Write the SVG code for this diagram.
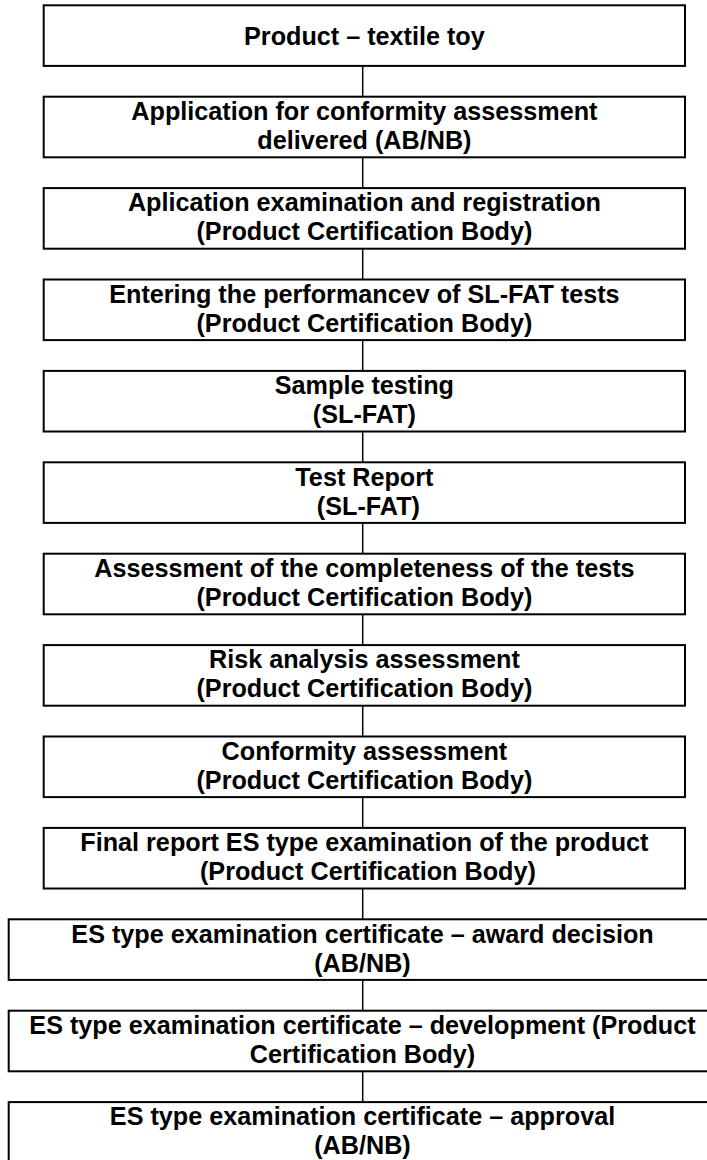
<svg xmlns="http://www.w3.org/2000/svg" width="707" height="1160" viewBox="0 0 707 1160">
<style>
.box{fill:#fff;stroke:#000;stroke-width:2}
.lbl{font-family:"Liberation Sans",Arial,sans-serif;font-weight:bold;font-size:25.2px;fill:#000;text-anchor:middle}
.con{stroke:#000;stroke-width:1.5;fill:none}
</style>
<rect width="707" height="1160" fill="#fff"/>
<g id="connectors">
<line class="con" x1="362.7" y1="65.9" x2="362.7" y2="96.7"/>
<line class="con" x1="362.7" y1="157.3" x2="362.7" y2="188.1"/>
<line class="con" x1="362.7" y1="248.7" x2="362.7" y2="279.5"/>
<line class="con" x1="362.7" y1="340.1" x2="362.7" y2="370.9"/>
<line class="con" x1="362.7" y1="431.5" x2="362.7" y2="462.3"/>
<line class="con" x1="362.7" y1="522.9" x2="362.7" y2="553.7"/>
<line class="con" x1="362.7" y1="614.3" x2="362.7" y2="645.1"/>
<line class="con" x1="362.7" y1="705.7" x2="362.7" y2="736.5"/>
<line class="con" x1="362.7" y1="797.1" x2="362.7" y2="827.9"/>
<line class="con" x1="362.7" y1="888.5" x2="362.7" y2="919.3"/>
<line class="con" x1="362.7" y1="979.9" x2="362.7" y2="1010.7"/>
<line class="con" x1="362.7" y1="1071.3" x2="362.7" y2="1102.1"/>
</g>
<g id="n1"><rect class="box" x="43.7" y="5.3" width="641.3" height="60.6"/><text class="lbl" x="364.4" y="45">Product – textile toy</text></g>
<g id="n2"><rect class="box" x="43.7" y="96.7" width="641.3" height="60.6"/><text class="lbl" x="364.4" y="120">Application for conformity assessment</text><text class="lbl" x="364.4" y="149">delivered (AB/NB)</text></g>
<g id="n3"><rect class="box" x="43.7" y="188.1" width="641.3" height="60.6"/><text class="lbl" x="364.4" y="211.4">Aplication examination and registration</text><text class="lbl" x="364.4" y="240.4">(Product Certification Body)</text></g>
<g id="n4"><rect class="box" x="43.7" y="279.5" width="641.3" height="60.6"/><text class="lbl" x="364.4" y="302.8">Entering the performancev of SL-FAT tests</text><text class="lbl" x="364.4" y="331.8">(Product Certification Body)</text></g>
<g id="n5"><rect class="box" x="43.7" y="370.9" width="641.3" height="60.6"/><text class="lbl" x="364.4" y="394.2">Sample testing</text><text class="lbl" x="364.4" y="423.2">(SL-FAT)</text></g>
<g id="n6"><rect class="box" x="43.7" y="462.3" width="641.3" height="60.6"/><text class="lbl" x="364.4" y="485.6">Test Report</text><text class="lbl" x="368.4" y="514.6">(SL-FAT)</text></g>
<g id="n7"><rect class="box" x="43.7" y="553.7" width="641.3" height="60.6"/><text class="lbl" x="364.4" y="577">Assessment of the completeness of the tests</text><text class="lbl" x="364.4" y="606">(Product Certification Body)</text></g>
<g id="n8"><rect class="box" x="43.7" y="645.1" width="641.3" height="60.6"/><text class="lbl" x="364.4" y="668.4">Risk analysis assessment</text><text class="lbl" x="364.4" y="697.4">(Product Certification Body)</text></g>
<g id="n9"><rect class="box" x="43.7" y="736.5" width="641.3" height="60.6"/><text class="lbl" x="364.4" y="759.8">Conformity assessment</text><text class="lbl" x="364.4" y="788.8">(Product Certification Body)</text></g>
<g id="n10"><rect class="box" x="43.7" y="827.9" width="641.3" height="60.6"/><text class="lbl" x="364.4" y="851.2">Final report ES type examination of the product</text><text class="lbl" x="367.9" y="880.2">(Product Certification Body)</text></g>
<g id="n11"><rect class="box" x="8.7" y="919.3" width="707.6" height="60.6"/><text class="lbl" x="362.5" y="942.6">ES type examination certificate – award decision</text><text class="lbl" x="362.5" y="971.6">(AB/NB)</text></g>
<g id="n12"><rect class="box" x="8.7" y="1010.7" width="707.6" height="60.6"/><text class="lbl" x="362.5" y="1034">ES type examination certificate – development (Product</text><text class="lbl" x="362.5" y="1063">Certification Body)</text></g>
<g id="n13"><rect class="box" x="8.7" y="1102.1" width="707.6" height="70"/><text class="lbl" x="362.5" y="1125.4">ES type examination certificate – approval</text><text class="lbl" x="362.5" y="1154.4">(AB/NB)</text></g>
</svg>
